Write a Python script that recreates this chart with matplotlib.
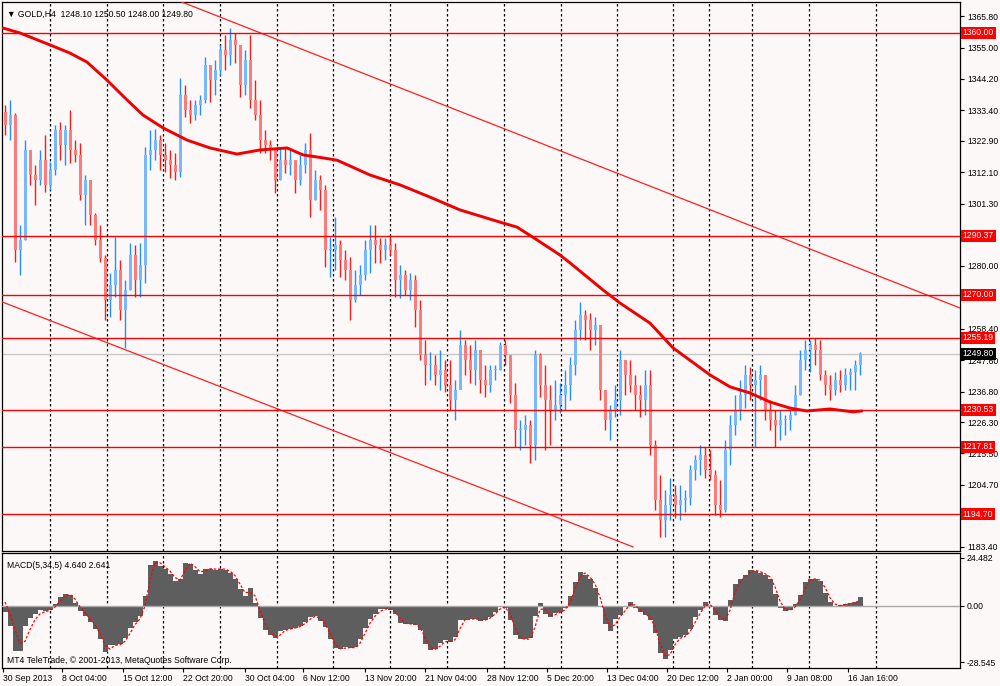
import matplotlib
matplotlib.use("Agg")
import matplotlib.pyplot as plt
import matplotlib.transforms as mtransforms
import numpy as np

plt.rcParams['font.family'] = ['Liberation Sans', 'DejaVu Sans']

# ------------------------------------------------------------
# Data read off the GOLD H4 chart (one candle ~ 2.5 real bars)
# ------------------------------------------------------------
first_open = 1333.0

highs = [
    1335.3, 1337.0, 1332.5, 1294.0, 1323.2, 1318.1, 1314.6, 1319.8, 1324.9, 1315.7,
    1328.4, 1329.4, 1328.4, 1333.5, 1323.2, 1322.2, 1311.2, 1309.5, 1298.1, 1294.0,
    1283.7, 1277.5, 1289.9, 1282.0, 1275.1, 1287.8, 1287.2, 1287.8, 1320.8, 1326.7,
    1327.0, 1324.9, 1322.2, 1319.8, 1318.8, 1344.5, 1342.1, 1337.0, 1337.0, 1338.7,
    1351.8, 1347.3, 1350.7, 1355.9, 1359.3, 1361.7, 1360.0, 1353.1, 1354.2, 1359.3,
    1343.8, 1337.0, 1326.7, 1323.2, 1317.4, 1320.8, 1320.8, 1319.8, 1316.3, 1318.1,
    1322.2, 1325.6, 1312.9, 1311.2, 1307.8, 1289.9, 1296.8, 1288.9, 1285.4, 1283.0,
    1278.6, 1280.3, 1288.9, 1294.0, 1294.0, 1289.6, 1289.6, 1290.6, 1287.8, 1280.3,
    1278.6, 1277.5, 1276.8, 1268.2, 1254.5, 1250.4, 1249.3, 1251.1, 1247.6, 1247.6,
    1240.8, 1257.9, 1254.5, 1252.8, 1254.5, 1251.1, 1245.9, 1245.9, 1245.9, 1253.8,
    1254.5, 1248.7, 1239.7, 1227.0, 1228.7, 1227.0, 1251.1, 1250.0, 1245.9, 1239.0,
    1240.8, 1239.7, 1244.2, 1248.7, 1261.4, 1267.6, 1264.8, 1263.8, 1262.4, 1257.9,
    1237.3, 1232.2, 1239.0, 1251.1, 1247.6, 1247.6, 1242.5, 1239.0, 1244.2, 1244.2,
    1220.2, 1208.1, 1203.0, 1207.1, 1204.7, 1204.7, 1203.0, 1211.5, 1215.0, 1218.4,
    1217.7, 1216.7, 1209.8, 1206.4, 1220.2, 1228.7, 1235.6, 1240.8, 1245.9, 1245.2,
    1244.2, 1245.9, 1242.5, 1233.9, 1230.5, 1230.5, 1228.7, 1230.5, 1239.0, 1251.1,
    1254.5, 1254.5, 1255.2, 1254.5, 1244.2, 1242.5, 1243.5, 1244.2, 1244.9, 1244.9,
    1247.6, 1250.5,
]

lows = [
    1324.9, 1323.2, 1281.3, 1276.8, 1288.9, 1307.8, 1300.9, 1307.8, 1305.4, 1306.0,
    1311.2, 1316.3, 1314.6, 1315.3, 1315.7, 1302.6, 1294.0, 1294.0, 1287.2, 1281.3,
    1261.4, 1262.4, 1269.3, 1261.4, 1251.8, 1271.7, 1269.3, 1269.3, 1274.1, 1312.9,
    1316.3, 1312.9, 1312.2, 1310.2, 1309.5, 1310.5, 1331.1, 1329.1, 1330.1, 1331.8,
    1335.9, 1336.3, 1338.7, 1345.6, 1347.3, 1349.0, 1349.7, 1338.0, 1338.7, 1334.2,
    1330.1, 1318.8, 1318.8, 1316.3, 1305.0, 1309.5, 1311.9, 1311.2, 1305.0, 1307.8,
    1311.9, 1296.8, 1302.6, 1299.2, 1279.6, 1276.1, 1278.6, 1276.1, 1275.1, 1261.4,
    1267.6, 1270.0, 1275.1, 1277.5, 1281.0, 1281.0, 1282.0, 1283.7, 1269.3, 1268.9,
    1270.0, 1268.2, 1259.0, 1247.6, 1239.0, 1240.8, 1239.0, 1237.3, 1236.6, 1230.5,
    1227.0, 1239.7, 1242.5, 1239.7, 1239.0, 1236.3, 1234.9, 1236.6, 1240.8, 1244.2,
    1245.9, 1232.8, 1217.7, 1216.7, 1218.4, 1212.2, 1213.3, 1234.9, 1216.7, 1218.4,
    1227.0, 1229.4, 1230.5, 1233.9, 1242.5, 1254.5, 1254.5, 1251.1, 1252.8, 1233.9,
    1223.6, 1220.2, 1228.0, 1228.7, 1235.6, 1236.6, 1230.5, 1228.0, 1228.7, 1215.0,
    1196.1, 1186.8, 1186.8, 1192.7, 1193.3, 1192.7, 1195.4, 1197.8, 1206.4, 1208.1,
    1207.1, 1206.4, 1194.4, 1193.7, 1195.4, 1211.5, 1221.9, 1227.0, 1231.1, 1233.9,
    1217.7, 1233.9, 1227.0, 1223.6, 1217.7, 1220.2, 1221.9, 1223.6, 1228.7, 1235.6,
    1244.2, 1243.5, 1245.9, 1240.8, 1235.6, 1233.9, 1235.6, 1236.6, 1237.3, 1237.3,
    1237.3, 1242.5,
]

closes = [
    1328.4, 1331.8, 1285.4, 1288.9, 1319.8, 1311.2, 1309.5, 1316.3, 1307.8, 1312.9,
    1326.7, 1321.5, 1326.7, 1319.8, 1318.1, 1304.3, 1309.5, 1297.4, 1288.9, 1282.7,
    1268.2, 1273.4, 1278.6, 1264.8, 1271.7, 1283.7, 1275.1, 1280.3, 1318.1, 1319.8,
    1323.2, 1318.1, 1316.3, 1314.6, 1312.2, 1338.7, 1333.5, 1331.8, 1335.3, 1337.0,
    1349.0, 1343.8, 1347.3, 1354.2, 1352.4, 1357.6, 1355.9, 1342.1, 1350.7, 1337.0,
    1331.8, 1323.2, 1321.5, 1319.8, 1309.5, 1316.3, 1314.6, 1316.3, 1309.5, 1314.6,
    1319.8, 1302.6, 1309.5, 1306.0, 1285.4, 1285.4, 1287.2, 1282.0, 1278.6, 1268.2,
    1273.4, 1276.8, 1285.4, 1288.9, 1287.2, 1285.4, 1287.2, 1285.4, 1275.1, 1276.8,
    1271.7, 1275.1, 1264.8, 1249.3, 1245.9, 1245.9, 1242.5, 1244.2, 1239.0, 1233.9,
    1237.3, 1252.8, 1247.6, 1244.2, 1251.1, 1240.8, 1239.0, 1244.2, 1244.2, 1252.8,
    1249.3, 1235.6, 1223.6, 1223.6, 1225.3, 1218.4, 1249.3, 1239.0, 1233.9, 1230.5,
    1232.2, 1235.6, 1239.0, 1245.9, 1257.9, 1263.1, 1261.4, 1257.9, 1259.7, 1237.3,
    1227.0, 1230.5, 1233.9, 1247.6, 1242.5, 1239.0, 1235.6, 1233.9, 1239.0, 1218.4,
    1199.5, 1192.7, 1197.8, 1201.3, 1197.8, 1199.5, 1200.2, 1209.8, 1213.3, 1215.0,
    1209.8, 1208.1, 1197.8, 1196.1, 1216.7, 1225.3, 1230.5, 1235.6, 1242.5, 1239.0,
    1240.8, 1242.5, 1230.5, 1227.0, 1225.3, 1227.0, 1227.0, 1228.7, 1235.6, 1247.6,
    1251.1, 1252.8, 1251.1, 1242.5, 1239.0, 1237.3, 1240.8, 1239.0, 1242.5, 1243.5,
    1245.9, 1249.8,
]

opens = [first_open] + closes[:-1]

macd = [
    -3, -10, -23, -23, -10, -6, -4, -2, -2.5, -2,
    1, 4.5, 6, 5.5, 1.5, -2.5, -5, -8, -11.5, -17,
    -23.5, -20, -20, -19.5, -16.5, -11, -8, -5, 5, 21,
    23, 20.5, 19, 16.5, 12.5, 14, 22, 21.5, 18.5, 16.5,
    19, 19, 18.5, 19, 18.5, 17, 14, 8.5, 5, 9,
    1.5, -6, -12, -15, -16.5, -13, -12, -11.5, -11, -10,
    -8, -5.5, -5, -7.5, -10.5, -17, -21.5, -22, -21, -21.5,
    -21, -17, -11, -6.5, -4, -1.5, -1.4, -2, -4, -8.5,
    -9.2, -9, -9.5, -12, -19.5, -22.5, -22, -19, -17.5, -18.5,
    -16, -7, -7, -6.5, -6.5, -7.5, -7, -5.5, -3, 0,
    -1, -7, -15, -17, -17, -16.5, -5, 1.4, -4.2, -5.5,
    -3.5, -3, -1, 5, 12, 17.5, 16, 13.5, 9, 0,
    -9, -12.5, -6.8, -4.5, -0.5, 2, -1, -3, -4.5, -7,
    -14, -24, -27, -22.5, -17, -16, -15, -11.5, -5.5, -2,
    1.8, 0, -4.5, -7, -7.5, 3, 11, 13.5, 16, 18.5,
    18, 17, 16, 13.5, 6, -1, -2.4, -2, 1, 5.5,
    12, 13.5, 14, 12.5, 6.5, 2, 0, 0.5, 1, 1.4,
    2.1, 4.64,
]

signal = [
    2, -4, -12, -19, -18, -12, -7, -4, -3, -2.2,
    -0.5, 2.5, 5, 5.8, 3.5, -0.5, -3.5, -6.5, -9.5, -14,
    -20, -22, -20, -19.8, -18, -14, -9.5, -6.5, 0, 13,
    22, 22, 20, 17.8, 14.5, 13.2, 18, 21.8, 20, 17.5,
    17.8, 19, 18.8, 18.8, 18.8, 17.8, 15.5, 11.2, 6.8, 7,
    5.2, -2.2, -9, -13.5, -15.8, -14.8, -12.5, -11.8, -11.2, -10.5,
    -9, -6.8, -5.2, -6.2, -9, -13.8, -19.2, -21.8, -21.5, -21.2,
    -21.2, -19, -14, -8.8, -5.2, -2.8, -1.5, -1.7, -3, -6.2,
    -8.8, -9.1, -9.2, -10.8, -15.8, -21, -22.2, -20.5, -18.2, -18,
    -17.2, -11.5, -7, -6.8, -6.5, -7, -7.2, -6.2, -4.2, -1.5,
    -0.5, -4, -11, -16, -17, -16.8, -10.8, -1.8, -1.4, -4.8,
    -4.5, -3.2, -2, 2, 8.5, 14.8, 16.8, 14.8, 11.2, 4.5,
    -4.5, -10.8, -9.6, -5.6, -2.5, 0.8, 0.5, -2, -3.8, -5.8,
    -10.5, -19, -25.5, -24.8, -19.8, -16.5, -15.5, -13.2, -8.5, -3.8,
    -0.1, 0.9, -2.2, -5.8, -7.2, -2.2, 7, 12.2, 14.8, 17.2,
    18.2, 17.5, 16.5, 14.8, 9.8, 2.5, -1.7, -2.2, -0.5, 3.2,
    8.8, 12.8, 13.8, 13.2, 9.5, 4.2, 1, 0.2, 0.8, 1.2,
    1.8, 2.64,
]

# moving average (thick red line), sampled along the curve
ma_bar = [-0.4, 3.0, 9.0, 13.0, 16.4, 20.4, 24.4, 27.6, 31.6, 36.4,
          41.0, 46.4, 51.0, 56.4, 59.6, 62.4, 66.4, 69.0, 73.0, 79.0,
          85.0, 91.0, 99.0, 102.4, 106.4, 111.0, 113.0, 119.6, 123.0, 129.0,
          133.6, 141.0, 145.0, 149.0, 153.0, 157.0, 160.4, 165.0, 169.6, 171.4]
ma_price = [1361.7, 1360.0, 1355.9, 1353.1, 1350.0, 1343.8, 1337.0, 1331.8, 1327.4, 1323.2,
            1320.5, 1318.4, 1319.8, 1320.5, 1318.1, 1317.4, 1316.3, 1314.3, 1311.2, 1307.8,
            1303.6, 1299.2, 1295.0, 1293.3, 1288.9, 1283.7, 1281.0, 1271.7, 1267.2, 1260.3,
            1251.8, 1242.5, 1238.4, 1236.3, 1233.2, 1231.1, 1230.1, 1230.8, 1229.8, 1230.1]

levels = [1360.00, 1290.37, 1270.00, 1255.19, 1230.53, 1217.81, 1194.70]
last_price = 1249.80

upper_channel_bar = [34.4, 191.0]
upper_channel_price = [1371.3, 1265.5]
lower_channel_bar = [-0.6, 125.6]
lower_channel_price = [1267.6, 1183.4]

week_breaks = [9.0, 20.4, 31.6, 43.0, 54.4, 65.6, 77.0, 88.4, 99.8, 111.2,
               122.4, 133.6, 140.8, 149.4, 160.8, 174.2]

date_ticks = [-0.4, 11.4, 23.6, 35.6, 48.0, 59.6, 72.0, 84.0, 96.4, 108.4,
              120.4, 132.4, 144.4, 156.4, 168.6]
date_labels = ["30 Sep 2013", "8 Oct 04:00", "15 Oct 12:00", "22 Oct 20:00",
               "30 Oct 04:00", "6 Nov 12:00", "13 Nov 20:00", "21 Nov 04:00",
               "28 Nov 12:00", "5 Dec 20:00", "13 Dec 04:00", "20 Dec 12:00",
               "2 Jan 00:00", "9 Jan 08:00", "16 Jan 16:00"]

price_ticks = [1365.80, 1355.00, 1344.20, 1333.40, 1322.90, 1312.10, 1301.30,
               1290.60, 1280.00, 1269.20, 1258.40, 1247.60, 1236.80, 1226.30,
               1215.50, 1204.70, 1194.10, 1183.40]
# labels hidden behind the level boxes in the terminal
hidden_ticks = [1290.60, 1269.20, 1194.10]
macd_ticks = [24.482, 0.0, -28.545]
macd_tick_labels = ["24.482", "0.00", "-28.545"]

# ------------------------------------------------------------
# Figure
# ------------------------------------------------------------
BG = "#FCF8F7"
FS = 6.2
fig = plt.figure(figsize=(10, 6.86), dpi=100, facecolor=BG)
ax = fig.add_axes([0.002, 0.19679, 0.958, 0.80029], facecolor=BG)
ax2 = fig.add_axes([0.002, 0.02624, 0.958, 0.16764], facecolor=BG)

xlim = (-0.6, 191.0)

# --- candles
idx = np.arange(len(closes))
o = np.array(opens)
c = np.array(closes)
up = c >= o
wick_col = np.where(up, "#1E90FF", "#FF1A1A")
body_col = np.where(up, "#78B8FF", "#FF7A7A")
ax.vlines(idx, lows, highs, colors=wick_col, lw=1.0, zorder=3)
body_low = np.minimum(o, c)
body_h = np.maximum(np.abs(c - o), 0.4)
ax.bar(idx, body_h, bottom=body_low, width=0.6, color=body_col, zorder=4)

# --- moving average and channel
ax.plot(ma_bar, ma_price, color="#F00000", lw=2.1, zorder=6,
        solid_capstyle="round", solid_joinstyle="round")
ax.plot(upper_channel_bar, upper_channel_price, color="#FF2020", lw=0.9, zorder=5)
ax.plot(lower_channel_bar, lower_channel_price, color="#FF2020", lw=0.9, zorder=5)

# --- week separators
for a in (ax, ax2):
    for wb in week_breaks:
        a.axvline(wb, color="black", lw=0.9, ls=(0, (2, 2)), zorder=2)

# --- horizontal levels with price boxes
label_tr = mtransforms.blended_transform_factory(ax.transAxes, ax.transData)
ax.axhline(last_price, color="#C8C8C8", lw=1.0, zorder=2)
for lv in levels:
    ax.axhline(lv, color="#FF0000", lw=1.0, zorder=5)
    ax.text(1.003, lv, f"{lv:.2f}", transform=label_tr, ha="left", va="center",
            fontsize=FS, color="white", clip_on=False, zorder=10,
            bbox=dict(boxstyle="square,pad=0.18", fc="#FF0000", ec="none"))
ax.text(1.003, last_price, f"{last_price:.2f}", transform=label_tr, ha="left",
        va="center", fontsize=FS, color="white", clip_on=False, zorder=10,
        bbox=dict(boxstyle="square,pad=0.18", fc="black", ec="none"))

ax.set_xlim(*xlim)
ax.set_ylim(1181.99, 1370.65)
ax.yaxis.tick_right()
ax.set_yticks(price_ticks)
ax.set_yticklabels(["" if t in hidden_ticks else f"{t:.2f}" for t in price_ticks])
ax.tick_params(axis="y", labelsize=FS, length=3, width=0.8, pad=2, colors="black")
ax.set_xticks([])

ax.text(0.005, 0.985, "\u25BC GOLD,H4  1248.10 1250.50 1248.00 1249.80",
        transform=ax.transAxes, ha="left", va="top", fontsize=FS, zorder=11)

# --- MACD panel
ax2.bar(idx, macd, width=1.0, color="#5E5E5E", zorder=3)
ax2.axhline(0, color="#A8A8A8", lw=1.0, zorder=3.5)
ax2.plot(idx, signal, color="#FF0000", lw=0.9, ls=(0, (2, 1.5)), zorder=4)
ax2.set_xlim(*xlim)
ax2.set_ylim(-31.6, 27.0)
ax2.yaxis.tick_right()
ax2.set_yticks(macd_ticks)
ax2.set_yticklabels(macd_tick_labels)
ax2.tick_params(axis="y", labelsize=FS, length=3, width=0.8, pad=2)
ax2.set_xticks(date_ticks)
ax2.set_xticklabels(date_labels, ha="left")
ax2.tick_params(axis="x", labelsize=FS, length=3, width=0.8, pad=1.5)

ax2.text(0.005, 0.93, "MACD(5,34,5) 4.640 2.641", transform=ax2.transAxes,
         ha="left", va="top", fontsize=FS, zorder=11)
ax2.text(0.005, 0.03, "MT4 TeleTrade, \u00A9 2001-2013, MetaQuotes Software Corp.",
         transform=ax2.transAxes, ha="left", va="bottom", fontsize=FS, zorder=11)

for a in (ax, ax2):
    for s in a.spines.values():
        s.set_color("black")
        s.set_linewidth(0.9)

fig.savefig("out.png", dpi=100, facecolor=BG)
